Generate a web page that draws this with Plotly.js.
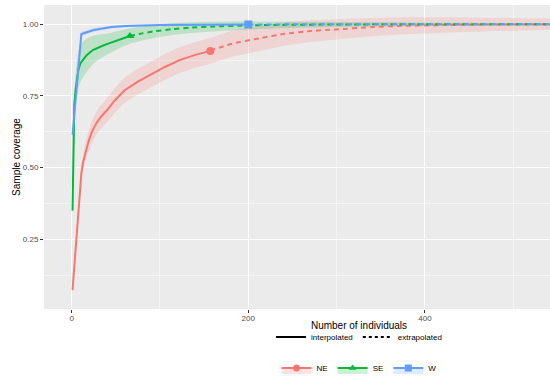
<!DOCTYPE html>
<html>
<head>
<meta charset="utf-8">
<script src="https://cdn.plot.ly/plotly-3.0.1.min.js"></script>
<style>
html, body { margin: 0; padding: 0; background: #fff; overflow: hidden; width: 550px; height: 377px; }
#chart { width: 680px; height: 390px; }
</style>
</head>
<body>
<div id="chart"></div>
<script>
// ---- Data ----
// NE (interpolated / extrapolated), with CI half-widths
const neX = [1, 9.4, 11, 13, 16, 19, 23, 28, 34, 40, 49, 60, 75, 90, 105, 122, 140, 157];
const neY = [0.073, 0.41, 0.48, 0.52, 0.56, 0.59, 0.625, 0.655, 0.68, 0.70, 0.735, 0.77, 0.80, 0.825, 0.85, 0.875, 0.893, 0.907];
const neHW = [0.004, 0.02, 0.024, 0.028, 0.032, 0.035, 0.038, 0.04, 0.041, 0.042, 0.043, 0.044, 0.045, 0.045, 0.045, 0.045, 0.045, 0.045];
const neExtX = [157, 180, 213, 240, 270, 300, 340, 371, 420, 480, 540, 600, 647];
const neExtY = [0.907, 0.931, 0.951, 0.966, 0.976, 0.982, 0.990, 0.994, 0.997, 0.999, 0.9995, 1.0, 1.0];
const neExtHW = [0.045, 0.045, 0.044, 0.041, 0.038, 0.035, 0.032, 0.030, 0.027, 0.023, 0.020, 0.017, 0.015];

// SE
const seX = [1, 2, 3, 4.5, 6, 7.5, 10, 13, 17, 24, 30, 35, 43, 55, 66];
const seY = [0.35, 0.60, 0.72, 0.77, 0.81, 0.84, 0.864, 0.878, 0.892, 0.91, 0.919, 0.925, 0.934, 0.948, 0.959];
const seHW = [0.01, 0.04, 0.055, 0.06, 0.063, 0.065, 0.065, 0.062, 0.058, 0.05, 0.044, 0.04, 0.035, 0.03, 0.027];
const seExtX = [66, 80, 95, 115, 135, 160, 200, 250, 300, 400, 500, 647];
const seExtY = [0.959, 0.968, 0.976, 0.983, 0.988, 0.992, 0.996, 0.998, 0.999, 1.0, 1.0, 1.0];
const seExtHW = [0.027, 0.025, 0.023, 0.021, 0.019, 0.017, 0.014, 0.011, 0.009, 0.006, 0.004, 0.003];

// W
const wX = [1, 11, 25, 45, 62, 100, 150, 200];
const wY = [0.614, 0.966, 0.98, 0.99, 0.994, 0.997, 0.998, 0.999];
const wHW = [0.01, 0.008, 0.006, 0.005, 0.004, 0.003, 0.002, 0.002];
const wExtX = [200, 300, 400, 647];
const wExtY = [0.999, 1.0, 1.0, 1.0];
const wExtHW = [0.002, 0.001, 0.001, 0.001];

const groups = ['NE', 'SE', 'W'];
const lineTypes = ['interpolated', 'extrapolated'];
const xTicks = [0, 200, 400];
const xTickLabels = ['0', '200', '400'];

// ---- Styles ----
const colors = { NE: '#F8766D', SE: '#00BA38', W: '#619CFF' };
const fills = { NE: 'rgba(248,118,109,0.2)', SE: 'rgba(0,186,56,0.2)', W: 'rgba(97,156,255,0.2)' };
const symbols = { NE: 'circle', SE: 'triangle-up', W: 'square' };
const FONT = '"Liberation Sans", Arial, sans-serif';

const series = {
  NE: { x: neX, y: neY, hw: neHW, ex: neExtX, ey: neExtY, ehw: neExtHW },
  SE: { x: seX, y: seY, hw: seHW, ex: seExtX, ey: seExtY, ehw: seExtHW },
  W:  { x: wX,  y: wY,  hw: wHW,  ex: wExtX,  ey: wExtY,  ehw: wExtHW }
};

const traces = [];
// ribbons
groups.forEach(g => {
  const s = series[g];
  const xs = s.x.concat(s.ex.slice(1));
  const ys = s.y.concat(s.ey.slice(1));
  const hs = s.hw.concat(s.ehw.slice(1));
  const up = ys.map((v, i) => v + hs[i]);
  const lo = ys.map((v, i) => v - hs[i]);
  traces.push({
    type: 'scatter', mode: 'none', x: xs.concat(xs.slice().reverse()),
    y: up.concat(lo.slice().reverse()), fill: 'toself', fillcolor: fills[g],
    showlegend: false, hoverinfo: 'skip'
  });
});
// lines
groups.forEach(g => {
  const s = series[g];
  traces.push({ type: 'scatter', mode: 'lines', x: s.x, y: s.y,
    line: { color: colors[g], width: 2 }, showlegend: false });
  traces.push({ type: 'scatter', mode: 'lines', x: s.ex, y: s.ey,
    line: { color: colors[g], width: 2, dash: '5px,4px', shape: 'spline', smoothing: 0.5 }, showlegend: false });
});
// observed points
groups.forEach(g => {
  const s = series[g];
  traces.push({ type: 'scatter', mode: 'markers', x: [s.x[s.x.length - 1]], y: [s.y[s.y.length - 1]],
    marker: { color: colors[g], size: 8, symbol: symbols[g] }, showlegend: false });
});
// legend: line types
lineTypes.forEach((t, i) => {
  traces.push({ type: 'scatter', mode: 'lines', x: [null], y: [null], name: t,
    line: { color: '#000', width: 2, dash: i === 0 ? 'solid' : '3px,3px' },
    legend: 'legend', showlegend: true });
});
// legend: groups
groups.forEach(g => {
  traces.push({ type: 'scatter', mode: 'lines+markers', x: [null], y: [null], name: g,
    line: { color: colors[g], width: 2 }, fill: 'toself', fillcolor: fills[g],
    marker: { color: colors[g], size: 7, symbol: symbols[g] },
    legend: 'legend2', showlegend: true });
});

const layout = {
  width: 680, height: 390,
  margin: { l: 44, r: 6, t: 5, b: 81 },
  paper_bgcolor: '#FFFFFF',
  plot_bgcolor: '#EBEBEB',
  font: { family: FONT, size: 8, color: '#4D4D4D' },
  xaxis: {
    range: [-31.3, 682], tickmode: 'array', tickvals: xTicks, ticktext: xTickLabels,
    zeroline: false, showline: false,
    ticks: 'outside', ticklen: 3, tickwidth: 1, tickcolor: '#333333',
    ticklabelstandoff: -2,
    tickfont: { family: FONT, size: 8, color: '#4D4D4D' },
    showgrid: true, gridcolor: '#FFFFFF', gridwidth: 1.1,
    minor: { tickmode: 'array', tickvals: [100, 300, 500], showgrid: true, gridcolor: '#FFFFFF', gridwidth: 0.5, ticks: '' },
    title: { text: 'Number of individuals', font: { family: FONT, size: 10, color: '#000' }, standoff: 0 },
    automargin: false
  },
  yaxis: {
    range: [0.007, 1.067], tick0: 0, dtick: 0.25, tickformat: '.2f', zeroline: false, showline: false,
    ticks: 'outside', ticklen: 3, tickwidth: 1, tickcolor: '#333333',
    tickfont: { family: FONT, size: 8, color: '#4D4D4D' },
    showgrid: true, gridcolor: '#FFFFFF', gridwidth: 1.1,
    minor: { dtick: 0.125, tick0: 0, showgrid: true, gridcolor: '#FFFFFF', gridwidth: 0.5, ticks: '' },
    title: { text: 'Sample coverage', font: { family: FONT, size: 10, color: '#000' }, standoff: 0 },
    automargin: false
  },
  showlegend: true,
  legend: {
    orientation: 'h', x: 0.5, xanchor: 'center', y: -0.092, yanchor: 'middle',
    font: { family: FONT, size: 8, color: '#000' }, bgcolor: 'rgba(0,0,0,0)',
    itemwidth: 30, tracegroupgap: 0
  },
  legend2: {
    orientation: 'h', x: 0.5, xanchor: 'center', y: -0.194, yanchor: 'middle',
    font: { family: FONT, size: 8, color: '#000' }, bgcolor: 'rgba(0,0,0,0)',
    itemwidth: 30, tracegroupgap: 0
  }
};

Plotly.newPlot('chart', traces, layout, { displayModeBar: false, staticPlot: true });
</script>
</body>
</html>
